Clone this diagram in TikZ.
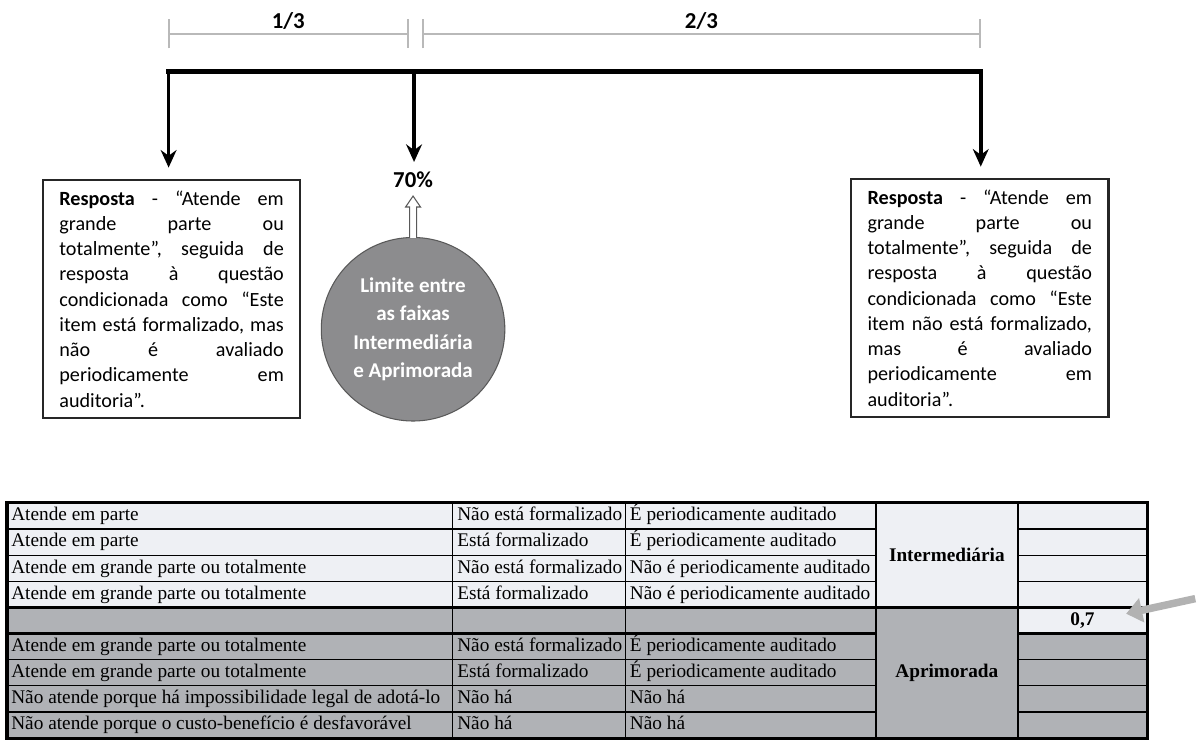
\documentclass[tikz,border=0pt]{standalone}
\usepackage{fontspec}
\setmainfont{Liberation Serif}
\newfontfamily\boxfont{Carlito}
\usetikzlibrary{positioning,arrows.meta}

\definecolor{lightrow}{RGB}{238,240,244}
\definecolor{darkrow}{RGB}{176,178,182}
\definecolor{limitgray}{RGB}{140,140,142}
\newcommand{\jline}[1]{\makebox[4.5cm][s]{#1}}

\begin{document}
\begin{tikzpicture}[x=0.02cm, y=-0.02cm]
    \tikzset{
      scalebar/.style={gray!55, line width=1.1pt, {Bar[width=0.58cm]}-{Bar[width=0.58cm]}},
      fraclabel/.style={inner sep=1pt, text=black, font=\boxfont\bfseries\fontsize{13}{15}\selectfont},
      mainbar/.style={line width=3pt, line cap=rect},
      downarrow/.style={-{Stealth[length=10pt,width=9pt]}, line width=2pt, shorten >=0.22cm},
      answerbox/.style={draw=black!85, line width=1.2pt, anchor=north west, text width=4.5cm,
        inner xsep=0.33cm, inner ysep=0.1cm, minimum height=4.78cm, align=left,
        font=\boxfont\fontsize{11.5}{14.4}\selectfont},
      limitcircle/.style={circle, fill=limitgray, draw=gray!70!black, line width=0.6pt,
        minimum size=3.68cm, align=center, text=white,
        font=\boxfont\bfseries\fontsize{12}{16}\selectfont},
      hollowup/.style={draw=gray!70!black, fill=white, line width=0.6pt, line join=miter},
      cell/.style={anchor=west, inner sep=0pt, text height=8pt, text depth=2.5pt,
        font=\fontsize{11}{13}\selectfont},
      band/.style={inner sep=0pt, font=\bfseries\fontsize{11}{13}\selectfont},
      thinrule/.style={line width=0.6pt},
      thickrule/.style={line width=1.3pt},
      pointer/.style={-{Triangle[length=0.32cm, width=0.48cm]}, line width=0.15cm, gray!60},
    }

    % escala 1/3 - 2/3
    \coordinate (s1a) at (168,34);
    \coordinate (s1b) at (410,34);
    \coordinate (s2a) at (423,34);
    \coordinate (s2b) at (983,34);
    \draw[scalebar] (s1a) -- (s1b) node[midway, above=0.03cm, fraclabel] (onethird) {1/3};
    \draw[scalebar] (s2a) -- (s2b) node[midway, above=0.03cm, fraclabel] (twothirds) {2/3};

    % respostas e limite
    \node[answerbox] (leftans) at (42,179) {%
      \jline{\textbf{Resposta}\hfill-\hfill“Atende\hfill em}\\
      \jline{grande\hfill parte\hfill ou}\\
      \jline{totalmente”,\hfill seguida\hfill de}\\
      \jline{resposta\hfill à\hfill questão}\\
      \jline{condicionada\hfill como\hfill “Este}\\
      \jline{item\hfill está\hfill formalizado,\hfill mas}\\
      \jline{não\hfill é\hfill avaliado}\\
      \jline{periodicamente\hfill em}\\
      auditoria”.};
    \node[answerbox] (rightans) at (852,178) {%
      \jline{\textbf{Resposta}\hfill-\hfill“Atende\hfill em}\\
      \jline{grande\hfill parte\hfill ou}\\
      \jline{totalmente”,\hfill seguida\hfill de}\\
      \jline{resposta\hfill à\hfill questão}\\
      \jline{condicionada\hfill como\hfill “Este}\\
      \jline{item\hfill não\hfill está\hfill formalizado,}\\
      \jline{mas\hfill é\hfill avaliado}\\
      \jline{periodicamente\hfill em}\\
      auditoria”.};
    \node[limitcircle] (limit) at (414,330) {Limite entre\\as faixas\\Intermediária\\e Aprimorada};
    \draw[hollowup] (limit.north) ++(-3.5,1) -- ++(0,-31) -- ++(-4,0)
      -- ++(7.5,-11) coordinate (uptip) -- ++(7.5,11) -- ++(-4,0) -- ++(0,31);
    \node[fraclabel, above=0.12cm of uptip] (pct) {70\%};

    % barra principal
    \coordinate (barL) at (169,72);
    \coordinate (barM) at (415,72);
    \coordinate (barR) at (983,72);
    \draw[mainbar] (barL) -- (barR);
    \draw[downarrow] (barL) -- (barL |- leftans.north);
    \draw[downarrow, shorten >=0.16cm] (barM) -- (barM |- pct.north);
    \draw[downarrow] (barR) -- (barR |- rightans.north);

    % tabela
    \fill[lightrow] (7,504) rectangle (1150,608.8);
    \fill[darkrow] (7,608.8) rectangle (1150,739.8);
    \fill[lightrow] (1020,608.8) rectangle (1150,635);
    \foreach \k in {1,2,3,6,7,8} {
      \draw[thinrule] (7,{504+26.2*\k}) -- (878,{504+26.2*\k});
      \draw[thinrule] (1020,{504+26.2*\k}) -- (1150,{504+26.2*\k});
    }
    \draw[thickrule] (7,608.8) -- (1150,608.8);
    \draw[thickrule] (7,635) -- (878,635) (1020,635) -- (1150,635);
    \draw[thinrule] (454,504) -- (454,739.8) (627,504) -- (627,739.8);
    \draw[thickrule] (878,504) -- (878,739.8) (1020,504) -- (1020,739.8);
    \draw[line width=1.8pt] (7,504) rectangle (1150,739.8);

    \foreach \r/\crit/\form/\audit in {
      1/Atende em parte/Não está formalizado/É periodicamente auditado,
      2/Atende em parte/Está formalizado/É periodicamente auditado,
      3/Atende em grande parte ou totalmente/Não está formalizado/Não é periodicamente auditado,
      4/Atende em grande parte ou totalmente/Está formalizado/Não é periodicamente auditado,
      6/Atende em grande parte ou totalmente/Não está formalizado/É periodicamente auditado,
      7/Atende em grande parte ou totalmente/Está formalizado/É periodicamente auditado,
      8/Não atende porque há impossibilidade legal de adotá-lo/Não há/Não há,
      9/Não atende porque o custo-benefício é desfavorável/Não há/Não há}
    {
      \node[cell] (crit\r) at (11,{504+26.2*(\r-0.5)}) {\crit};
      \node[cell] (form\r) at (458,{504+26.2*(\r-0.5)}) {\form};
      \node[cell] (audit\r) at (631,{504+26.2*(\r-0.5)}) {\audit};
    }
    \node[band] (interm) at (949,556.4) {Intermediária};
    \node[band] (aprim) at (949,674.3) {Aprimorada};
    \node[band] (val) at (1085,621.9) {0,7};

    \coordinate (ptail) at (1198,600);
    \draw[pointer, shorten >=0.64cm] (ptail) -- (val.east);

    \useasboundingbox (0,0) rectangle (1199,744);
\end{tikzpicture}
\end{document}
